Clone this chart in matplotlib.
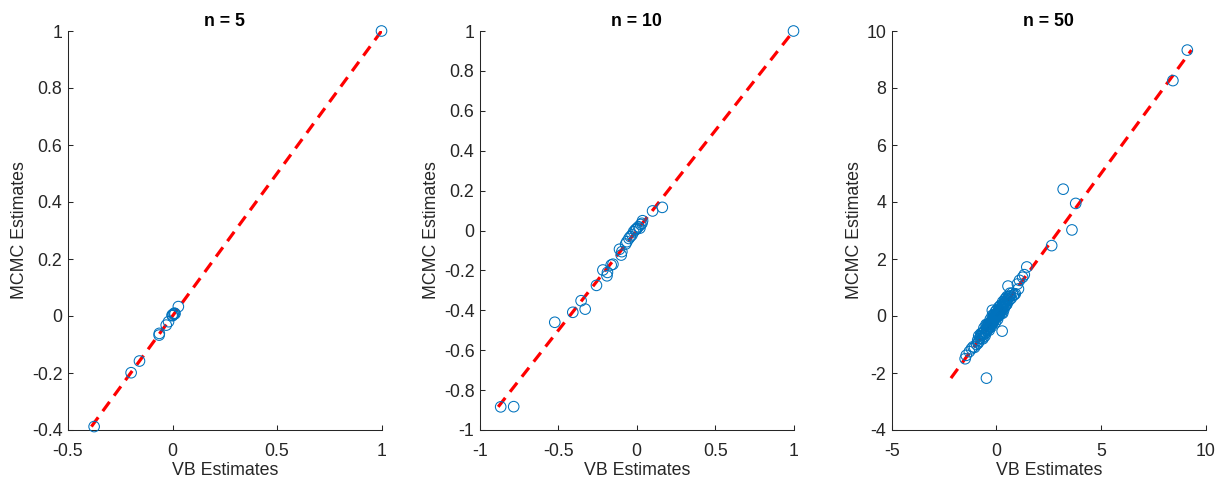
import matplotlib
matplotlib.use("Agg")
import matplotlib.pyplot as plt
from matplotlib.ticker import FuncFormatter

plt.rcParams['font.family'] = ['Liberation Sans', 'DejaVu Sans']

# ---- estimates: VB (x) vs MCMC (y) ----
vb_n5 = [1.0, 0.028, 0.009, 0.0, -0.019, -0.030, -0.063, -0.064, -0.158, -0.198, -0.375,
         0.004, 0.012, -0.002]
mcmc_n5 = [1.0, 0.033, 0.010, 0.001, -0.020, -0.032, -0.061, -0.067, -0.158, -0.199, -0.388,
           0.006, 0.008, 0.003]

vb_n10 = [1.0, -0.868, -0.785, -0.523, -0.408, -0.355, -0.329, -0.257, -0.216, -0.190, -0.187,
          -0.163, -0.152, -0.110, -0.099, -0.095, -0.071, -0.063, -0.041, -0.030, -0.020,
          -0.010, 0.001, 0.011, 0.033, 0.037, 0.101, 0.163, -0.005, 0.020, 0.025, -0.050]
mcmc_n10 = [1.0, -0.884, -0.883, -0.460, -0.410, -0.352, -0.394, -0.275, -0.198, -0.227, -0.210,
            -0.173, -0.169, -0.094, -0.123, -0.106, -0.068, -0.056, -0.031, -0.022, -0.006,
            0.003, 0.011, 0.019, 0.036, 0.049, 0.098, 0.116, 0.005, 0.012, 0.030, -0.040]

vb_n50 = [9.13, 8.44, 3.19, 3.79, 3.61, 2.64, 1.45, 1.33, 1.25, 1.00, 0.55, 0.27, -0.48,
          -1.50, -1.45, -1.12, -0.85, -0.80, -0.20, 1.05, 0.90,
          -0.95, -0.90, -0.75, -0.70, -0.65, -0.60, -0.55, -0.50, -0.48, -0.45, -0.40, -0.38,
          -0.35, -0.32, -0.30, -0.28, -0.25, -0.22, -0.20, -0.18, -0.15, -0.12, -0.10, -0.08,
          -0.05, -0.03, 0.00, 0.02, 0.05, 0.08, 0.10, 0.12, 0.15, 0.18, 0.20, 0.22, 0.25,
          0.28, 0.30, 0.35, 0.38, 0.40, 0.45, 0.50, 0.55, 0.60, 0.65, 0.70, 0.75, 0.80,
          -0.62, -0.42, -0.27, -0.13, 0.03, 0.17, 0.33, 0.47, 0.62, -0.70, -0.52, -0.36,
          -0.17, -0.02, 0.13, 0.27, 0.42, 0.58, -1.05, -1.20, -0.88, 0.10, -0.30, 0.40,
          -0.60, -0.45, -0.30, -0.15, 0.00, 0.15, 0.30, 0.45, -0.75, -0.55, -0.40, -0.25,
          -0.10, 0.05, 0.20, 0.35, 0.50, -0.50, -0.35, -0.20, -0.05, 0.10, 0.25, 0.40,
          -0.85, -0.65, 0.65, 0.85, 1.10, -1.30, -0.05, 0.30]
mcmc_n50 = [9.33, 8.26, 4.45, 3.95, 3.02, 2.47, 1.72, 1.45, 1.36, 1.12, 1.05, -0.53, -2.18,
            -1.50, -1.38, -1.08, -0.90, -0.78, 0.20, 0.95, 0.78,
            -1.00, -0.85, -0.70, -0.78, -0.60, -0.65, -0.50, -0.58, -0.42, -0.50, -0.35, -0.45,
            -0.30, -0.38, -0.22, -0.30, -0.20, -0.28, -0.12, -0.20, -0.10, -0.18, -0.02, -0.10,
            0.00, -0.06, 0.05, -0.02, 0.10, 0.02, 0.15, 0.08, 0.20, 0.12, 0.28, 0.18, 0.30,
            0.22, 0.38, 0.30, 0.45, 0.35, 0.50, 0.42, 0.60, 0.55, 0.70, 0.62, 0.80, 0.72,
            -0.55, -0.45, -0.20, -0.05, 0.12, 0.10, 0.40, 0.40, 0.68, -0.62, -0.60, -0.28,
            -0.25, 0.06, 0.05, 0.34, 0.35, 0.66, -1.10, -1.15, -0.95, 0.00, -0.35, 0.48,
            -0.42, -0.30, -0.12, 0.02, 0.20, 0.32, 0.50, 0.62, -0.62, -0.70, -0.28, -0.38,
            0.05, -0.12, 0.38, 0.22, 0.68, -0.30, -0.50, 0.02, -0.22, 0.30, 0.10, 0.58,
            -0.70, -0.80, 0.80, 0.75, 1.25, -1.25, 0.15, 0.10]

panels = [
    ("n = 5", vb_n5, mcmc_n5, (-0.5, 1.0), (-0.4, 1.0),
     [-0.5, 0, 0.5, 1], [-0.4, -0.2, 0, 0.2, 0.4, 0.6, 0.8, 1]),
    ("n = 10", vb_n10, mcmc_n10, (-1.0, 1.0), (-1.0, 1.0),
     [-1, -0.5, 0, 0.5, 1], [-1, -0.8, -0.6, -0.4, -0.2, 0, 0.2, 0.4, 0.6, 0.8, 1]),
    ("n = 50", vb_n50, mcmc_n50, (-5, 10), (-4, 10),
     [-5, 0, 5, 10], [-4, -2, 0, 2, 4, 6, 8, 10]),
]

W, H = 1217, 480
fig = plt.figure(figsize=(W / 100, H / 100), dpi=100)

axis_col = '#262626'
blue = '#0072BD'
lefts = [68, 480, 892]


def fmt(v, _pos):
    s = ('%.2f' % v).rstrip('0').rstrip('.')
    return '0' if s in ('-0', '0') else s


for left, (title, xs, ys, xl, yl, xt, yt) in zip(lefts, panels):
    ax = fig.add_axes([left / W, 1 - 430 / H, 313.5 / W, 399 / H])
    lo = min(min(xs), min(ys))
    hi = max(max(xs), max(ys))
    ax.plot([lo, hi], [lo, hi], color='red', lw=2.3, dashes=(3.6, 2.4), zorder=2)
    ax.scatter(xs, ys, s=58, facecolors='none', edgecolors=blue, linewidths=0.75,
               zorder=3, clip_on=False)
    ax.set_xlim(*xl)
    ax.set_ylim(*yl)
    ax.set_xticks(xt)
    ax.set_yticks(yt)
    ax.xaxis.set_major_formatter(FuncFormatter(fmt))
    ax.yaxis.set_major_formatter(FuncFormatter(fmt))
    for side in ('top', 'right'):
        ax.spines[side].set_visible(False)
    for side in ('left', 'bottom'):
        ax.spines[side].set_color(axis_col)
        ax.spines[side].set_linewidth(0.75)
    ax.tick_params(direction='in', length=3.5, width=0.75, color=axis_col,
                   labelcolor=axis_col, labelsize=12.8)
    ax.tick_params(axis='x', pad=9)
    ax.tick_params(axis='y', pad=4)
    ax.set_title(title, fontsize=12.8, fontweight='bold', color='black', pad=3.5)
    ax.set_xlabel('VB Estimates', fontsize=12.8, color=axis_col, labelpad=2)
    ax.set_ylabel('MCMC Estimates', fontsize=12.8, color=axis_col, labelpad=2.5)
    ax.set_facecolor('white')

fig.savefig('out.png', dpi=100, facecolor='white')
